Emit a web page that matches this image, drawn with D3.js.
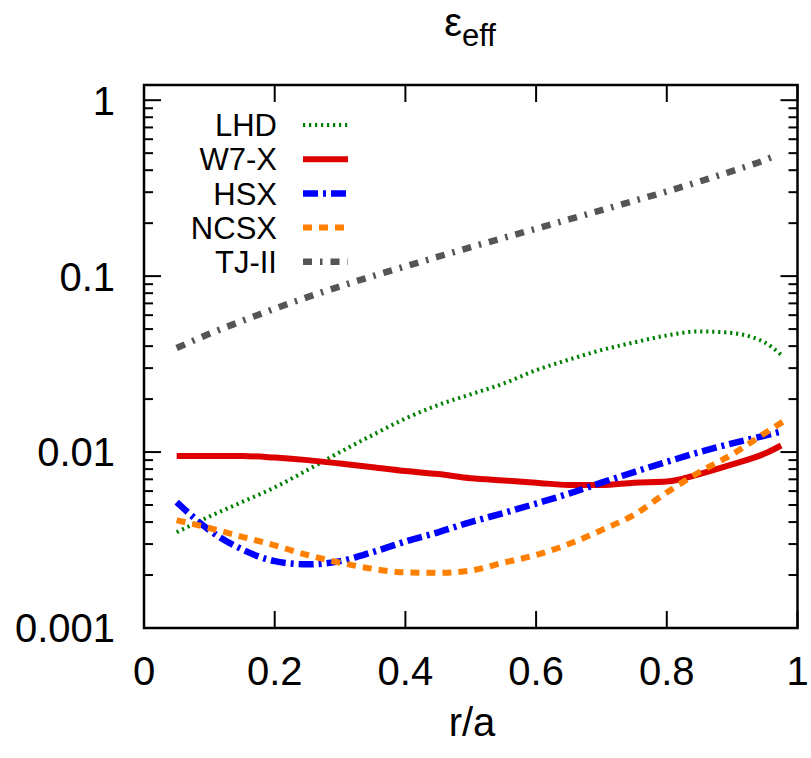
<!DOCTYPE html>
<html>
<head>
<meta charset="utf-8">
<script src="https://cdn.jsdelivr.net/npm/d3@7"></script>
<style>
  html, body { margin: 0; padding: 0; background: #fff; }
  svg { display: block; font-family: "Liberation Sans", Arial, Helvetica, sans-serif; }
</style>
</head>
<body>
<svg id="chart" width="811" height="758"></svg>
<script>
// ---- data ----
const seriesNames = ["LHD", "W7-X", "HSX", "NCSX", "TJ-II"];

const lhdR = [0.05, 0.1, 0.15, 0.2, 0.25, 0.3, 0.35, 0.4, 0.45, 0.5, 0.55, 0.6, 0.65, 0.7, 0.75, 0.8, 0.85, 0.9, 0.93, 0.95, 0.975];
const lhdV = [0.0035, 0.0043, 0.0052, 0.0063, 0.0079, 0.0100, 0.0125, 0.0155, 0.0185, 0.0213, 0.0245, 0.0292, 0.0335, 0.038, 0.042, 0.046, 0.0485, 0.0475, 0.045, 0.042, 0.0357];

const w7xR = [0.05, 0.1, 0.15, 0.2, 0.25, 0.3, 0.35, 0.4, 0.45, 0.5, 0.55, 0.6, 0.65, 0.7, 0.75, 0.8, 0.85, 0.9, 0.95, 0.975];
const w7xV = [0.0095, 0.0095, 0.0095, 0.0093, 0.0090, 0.0086, 0.0082, 0.0078, 0.0075, 0.0071, 0.0069, 0.0067, 0.0065, 0.0065, 0.0067, 0.0068, 0.0075, 0.0085, 0.0098, 0.0109];

const hsxR = [0.05, 0.1, 0.15, 0.2, 0.25, 0.3, 0.35, 0.4, 0.45, 0.5, 0.55, 0.6, 0.65, 0.7, 0.75, 0.8, 0.85, 0.9, 0.95, 0.975];
const hsxV = [0.0052, 0.0036, 0.0028, 0.0024, 0.0023, 0.0024, 0.0027, 0.0031, 0.0035, 0.0040, 0.0045, 0.0051, 0.0058, 0.0067, 0.0077, 0.0088, 0.0100, 0.0112, 0.0124, 0.0131];

const ncsxR = [0.05, 0.1, 0.15, 0.2, 0.25, 0.3, 0.35, 0.4, 0.45, 0.5, 0.55, 0.6, 0.65, 0.7, 0.75, 0.8, 0.85, 0.9, 0.95, 0.978];
const ncsxV = [0.0041, 0.0037, 0.0033, 0.00295, 0.0026, 0.00235, 0.00217, 0.00207, 0.00206, 0.00212, 0.00235, 0.0026, 0.0030, 0.0036, 0.0044, 0.0059, 0.0077, 0.0097, 0.0128, 0.0149];

const tjiiR = [0.05, 0.1, 0.15, 0.2, 0.25, 0.3, 0.35, 0.4, 0.45, 0.5, 0.55, 0.6, 0.65, 0.7, 0.75, 0.8, 0.85, 0.9, 0.95, 0.97];
const tjiiV = [0.039, 0.047, 0.0556, 0.0653, 0.0759, 0.0875, 0.100, 0.1135, 0.129, 0.146, 0.165, 0.186, 0.21, 0.237, 0.268, 0.303, 0.345, 0.395, 0.457, 0.49];

const xTicks = [0, 0.2, 0.4, 0.6, 0.8, 1];
const xTickLabels = ["0", "0.2", "0.4", "0.6", "0.8", "1"];
const yTicks = [0.001, 0.01, 0.1, 1];
const yTickLabels = ["0.001", "0.01", "0.1", "1"];

// ---- styles ----
const styles = [
  { color: "#008000", width: 4,   dash: "2.2,3.8" },
  { color: "#dd0000", width: 6,   dash: null },
  { color: "#0000ff", width: 6.5, dash: "15,5,3,5" },
  { color: "#ff8000", width: 6,   dash: "9,7" },
  { color: "#555555", width: 6.5, dash: "9,8,2.5,8" }
];
const seriesR = [lhdR, w7xR, hsxR, ncsxR, tjiiR];
const seriesV = [lhdV, w7xV, hsxV, ncsxV, tjiiV];

const svg = d3.select("#chart");
const pLeft = 144, pRight = 797.5, pTop = 85, pBottom = 628;

const x = d3.scaleLinear().domain([0, 1]).range([pLeft, pRight]);
const y = d3.scaleLog().domain([0.001, 1.22]).range([pBottom, pTop]);

// clip
svg.append("clipPath").attr("id", "clip").append("rect")
  .attr("x", pLeft).attr("y", pTop).attr("width", pRight - pLeft).attr("height", pBottom - pTop);

// minor y ticks
const minor = [];
[0.001, 0.01, 0.1].forEach(d => { for (let k = 2; k <= 9; k++) minor.push(d * k); });

const tickG = svg.append("g").attr("stroke", "#000").attr("stroke-width", 2);
const majorLen = 17, minorLen = 9;
yTicks.forEach(v => {
  tickG.append("line").attr("x1", pLeft).attr("x2", pLeft + majorLen).attr("y1", y(v)).attr("y2", y(v));
  tickG.append("line").attr("x1", pRight).attr("x2", pRight - majorLen).attr("y1", y(v)).attr("y2", y(v));
});
minor.forEach(v => {
  tickG.append("line").attr("x1", pLeft).attr("x2", pLeft + minorLen).attr("y1", y(v)).attr("y2", y(v));
  tickG.append("line").attr("x1", pRight).attr("x2", pRight - minorLen).attr("y1", y(v)).attr("y2", y(v));
});
xTicks.forEach(v => {
  tickG.append("line").attr("x1", x(v)).attr("x2", x(v)).attr("y1", pBottom).attr("y2", pBottom - majorLen);
  tickG.append("line").attr("x1", x(v)).attr("x2", x(v)).attr("y1", pTop).attr("y2", pTop + majorLen);
});

// tick labels
const fs = 40;
svg.append("g").selectAll("text").data(yTicks).join("text")
  .attr("x", pLeft - 29).attr("y", d => y(d)).attr("dy", "0.36em")
  .attr("text-anchor", "end").attr("font-size", fs).attr("fill", "#000")
  .text((d, i) => yTickLabels[i]);
svg.append("g").selectAll("text").data(xTicks).join("text")
  .attr("x", d => x(d)).attr("y", 685)
  .attr("text-anchor", "middle").attr("font-size", fs).attr("fill", "#000")
  .text((d, i) => xTickLabels[i]);

// axis title and chart title
svg.append("text").attr("x", 472).attr("y", 736).attr("text-anchor", "middle")
  .attr("font-size", fs).text("r/a");
const t = svg.append("text").attr("x", 470).attr("y", 36).attr("text-anchor", "middle").attr("font-size", 40);
t.append("tspan").text("ε");
t.append("tspan").attr("font-size", 31).attr("dy", 10).text("eff");

// lines
const line = d3.line().x(d => x(d[0])).y(d => y(d[1])).curve(d3.curveMonotoneX);
const lineG = svg.append("g").attr("clip-path", "url(#clip)");
seriesNames.forEach((name, i) => {
  const pts = seriesR[i].map((r, j) => [r, seriesV[i][j]]);
  lineG.append("path").datum(pts)
    .attr("d", line)
    .attr("fill", "none")
    .attr("stroke", styles[i].color)
    .attr("stroke-width", styles[i].width)
    .attr("stroke-dasharray", styles[i].dash)
    .attr("stroke-linejoin", "round");
});

// legend
const legG = svg.append("g");
seriesNames.forEach((name, i) => {
  const cy = 125 + i * 34.2;
  legG.append("text").attr("x", 277).attr("y", cy).attr("dy", "0.36em")
    .attr("text-anchor", "end").attr("font-size", 31).attr("fill", "#000").text(name);
  legG.append("line").attr("x1", 303).attr("x2", 348).attr("y1", cy).attr("y2", cy)
    .attr("stroke", styles[i].color).attr("stroke-width", styles[i].width)
    .attr("stroke-dasharray", styles[i].dash);
});

// frame
svg.append("rect").attr("x", pLeft).attr("y", pTop).attr("width", pRight - pLeft).attr("height", pBottom - pTop)
  .attr("fill", "none").attr("stroke", "#000").attr("stroke-width", 2.5);
</script>
</body>
</html>
